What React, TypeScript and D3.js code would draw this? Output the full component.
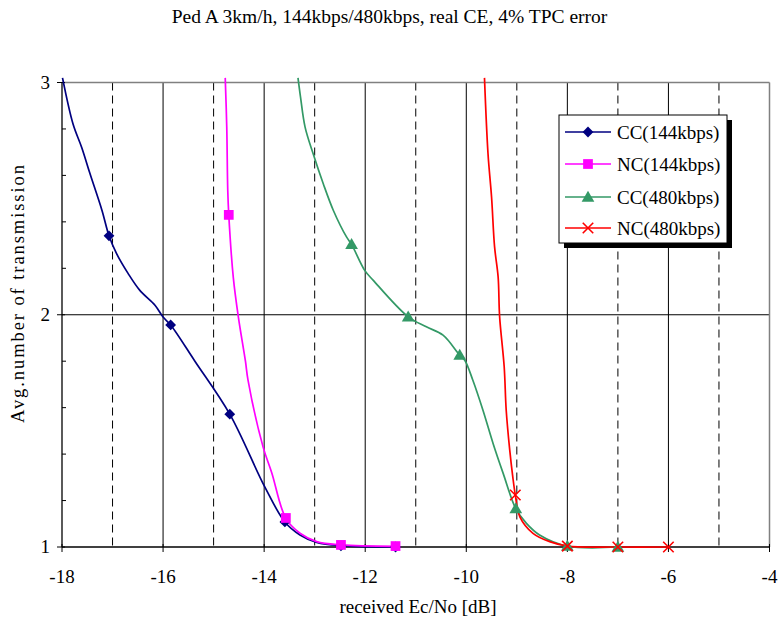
import React from 'react'
import * as d3 from 'd3'

// curve points [Ec/No dB, avg transmissions]
const cc144Line = [
  [-17.99, 3.02], [-17.78, 2.82], [-17.61, 2.72], [-17.45, 2.61], [-17.21, 2.45],
  [-17.07, 2.34], [-16.92, 2.263], [-16.69, 2.177], [-16.46, 2.105], [-16.16, 2.041],
  [-16.0, 1.99], [-15.85, 1.956], [-15.37, 1.8], [-14.68, 1.572], [-13.99, 1.26],
  [-13.59, 1.108], [-13.29, 1.052], [-12.96, 1.02], [-12.47, 1.006], [-11.4, 1.0],
]
const cc144Marks = [[-17.07, 2.34], [-15.85, 1.956], [-14.68, 1.572], [-13.59, 1.108], [-12.48, 1.005], [-11.4, 1.0]]

const nc144Line = [
  [-14.77, 3.02], [-14.74, 2.81], [-14.72, 2.535], [-14.7, 2.43], [-14.61, 2.16],
  [-14.51, 1.99], [-14.37, 1.8], [-14.32, 1.72], [-14.02, 1.43], [-13.85, 1.32],
  [-13.57, 1.123], [-13.29, 1.059], [-12.96, 1.023], [-12.47, 1.009], [-11.4, 1.003],
]
const nc144Marks = [[-14.7, 2.43], [-13.57, 1.125], [-12.48, 1.009], [-11.4, 1.004]]

const cc480Line = [
  [-13.33, 3.02], [-13.28, 2.937], [-13.19, 2.808], [-13.03, 2.693], [-12.83, 2.564],
  [-12.63, 2.449], [-12.37, 2.335], [-12.27, 2.303], [-12.01, 2.191], [-11.84, 2.148],
  [-11.15, 1.991], [-10.79, 1.948], [-10.46, 1.912], [-10.13, 1.826], [-10.03, 1.804],
  [-9.87, 1.718], [-9.67, 1.589], [-9.47, 1.446], [-9.27, 1.317], [-9.02, 1.165],
  [-8.81, 1.102], [-8.55, 1.052], [-8.0, 1.004], [-7.0, 1.0],
]
const cc480Marks = [[-12.27, 2.303], [-11.15, 1.991], [-10.13, 1.826], [-9.02, 1.165], [-8.0, 1.004], [-7.0, 1.0]]

const nc480Line = [
  [-9.64, 3.02], [-9.57, 2.693], [-9.5, 2.507], [-9.44, 2.292], [-9.37, 2.163],
  [-9.34, 1.991], [-9.25, 1.776], [-9.21, 1.589], [-9.14, 1.417], [-9.08, 1.302],
  [-9.03, 1.224], [-8.94, 1.13], [-8.68, 1.059], [-8.35, 1.023], [-8.0, 1.004],
  [-7.0, 1.0], [-6.0, 1.0],
]
const nc480Marks = [[-9.03, 1.224], [-8.0, 1.004], [-7.0, 1.0], [-6.0, 1.0]]

const seriesNames = ['CC(144kbps)', 'NC(144kbps)', 'CC(480kbps)', 'NC(480kbps)']
const seriesColors = ['#000080', '#FF00FF', '#339966', '#FF0000']
const seriesMarkers = ['diamond', 'square', 'triangle', 'cross']
const seriesLines = [cc144Line, nc144Line, cc480Line, nc480Line]
const seriesMarks = [cc144Marks, nc144Marks, cc480Marks, nc480Marks]

const xTicks = [-18, -16, -14, -12, -10, -8, -6, -4]
const xGridOdd = [-17, -15, -13, -11, -9, -7, -5]
const yTicks = [1, 2, 3]
const yMinor = [1.2, 1.4, 1.6, 1.8, 2.2, 2.4, 2.6, 2.8]

const title = 'Ped A 3km/h, 144kbps/480kbps, real CE, 4% TPC error'
const xTitle = 'received Ec/No [dB]'
const yTitle = 'Avg.number of transmission'

const W = 779
const H = 617
const left = 62
const right = 769.5
const top = 82.5
const bottom = 547
const font = '"Liberation Serif", "Times New Roman", serif'

const crossType = {
  draw(ctx, size) {
    const r = Math.sqrt(size) / 2
    ctx.moveTo(-r, -r); ctx.lineTo(r, r)
    ctx.moveTo(-r, r); ctx.lineTo(r, -r)
  },
}

function Marker({ type, cx, cy, color }) {
  if (type === 'diamond') {
    const d = d3.symbol(d3.symbolSquare, 58)()
    return <path d={d} transform={`translate(${cx},${cy}) rotate(45)`} fill={color} />
  }
  if (type === 'square') {
    const d = d3.symbol(d3.symbolSquare, 95)()
    return <path d={d} transform={`translate(${cx},${cy})`} fill={color} />
  }
  if (type === 'triangle') {
    const d = d3.symbol(d3.symbolTriangle, 70)()
    return <path d={d} transform={`translate(${cx},${cy + 1})`} fill={color} />
  }
  const d = d3.symbol(crossType, 110)()
  return <path d={d} transform={`translate(${cx},${cy})`} fill="none" stroke={color} strokeWidth={1.6} />
}

export default function App() {
  const x = d3.scaleLinear().domain([-18, -4]).range([left, right])
  const y = d3.scaleLinear().domain([1, 3]).range([bottom, top])
  const line = d3.line().x(d => x(d[0])).y(d => y(d[1])).curve(d3.curveCatmullRom.alpha(0.5))

  const lgX = 559
  const lgY = 115
  const lgW = 168
  const lgH = 128
  const rowY = [132, 164, 197, 228]

  return (
    <svg width={W} height={H} style={{ position: 'absolute', left: 0, top: 0 }} fontFamily={font}>
      <rect x={0} y={0} width={W} height={H} fill="#fff" />
      <text x={W / 2} y={23} textAnchor="middle" fontSize={19.5}>{title}</text>

      {/* grid */}
      {xTicks.filter(t => t > -18 && t < -4).map(t => (
        <line key={'g' + t} x1={x(t)} x2={x(t)} y1={top} y2={bottom} stroke="#000" strokeWidth={1} />
      ))}
      {xGridOdd.map(t => (
        <line key={'d' + t} x1={x(t)} x2={x(t)} y1={top} y2={bottom} stroke="#000" strokeWidth={1} strokeDasharray="8,5" />
      ))}
      <line x1={left} x2={right} y1={y(2)} y2={y(2)} stroke="#000" strokeWidth={1} />
      <line x1={left} x2={right} y1={top} y2={top} stroke="#808080" strokeWidth={1.5} />
      <line x1={right} x2={right} y1={top} y2={bottom} stroke="#808080" strokeWidth={1.5} />

      {/* axes */}
      <line x1={left} x2={left} y1={top} y2={bottom} stroke="#000" strokeWidth={1.3} />
      <line x1={left} x2={right} y1={bottom} y2={bottom} stroke="#000" strokeWidth={1.3} />
      {xTicks.map(t => (
        <g key={'xt' + t}>
          <line x1={x(t)} x2={x(t)} y1={bottom - 3} y2={bottom + 5} stroke="#000" />
          <text x={x(t)} y={bottom + 36} textAnchor="middle" fontSize={19}>{t}</text>
        </g>
      ))}
      {yTicks.map(t => (
        <g key={'yt' + t}>
          <line x1={left - 5} x2={left + 3} y1={y(t)} y2={y(t)} stroke="#000" />
          <text x={left - 12} y={y(t) + 6} textAnchor="end" fontSize={19}>{t}</text>
        </g>
      ))}
      {yMinor.map(t => (
        <line key={'ym' + t} x1={left} x2={left + 4} y1={y(t)} y2={y(t)} stroke="#000" />
      ))}
      <text x={418} y={613} textAnchor="middle" fontSize={19}>{xTitle}</text>
      <text transform={`translate(23.5,294) rotate(-90)`} textAnchor="middle" fontSize={18.5}
        textLength={258} lengthAdjust="spacing">{yTitle}</text>

      {/* series */}
      {seriesLines.map((pts, i) => (
        <path key={'l' + i} d={line(pts)} fill="none" stroke={seriesColors[i]} strokeWidth={1.7} />
      ))}
      {seriesMarks.map((pts, i) => pts.map((p, j) => (
        <Marker key={'m' + i + '-' + j} type={seriesMarkers[i]} cx={x(p[0])} cy={y(p[1])} color={seriesColors[i]} />
      )))}

      {/* legend */}
      <rect x={lgX + 5} y={lgY + 5} width={lgW} height={lgH} fill="#000" />
      <rect x={lgX} y={lgY} width={lgW} height={lgH} fill="#fff" stroke="#000" strokeWidth={1} />
      {seriesNames.map((name, i) => (
        <g key={'lg' + i}>
          <line x1={565} x2={611} y1={rowY[i]} y2={rowY[i]} stroke={seriesColors[i]} strokeWidth={1.7} />
          <Marker type={seriesMarkers[i]} cx={588} cy={rowY[i]} color={seriesColors[i]} />
          <text x={617} y={rowY[i] + 6.5} fontSize={19}>{name}</text>
        </g>
      ))}
    </svg>
  )
}
